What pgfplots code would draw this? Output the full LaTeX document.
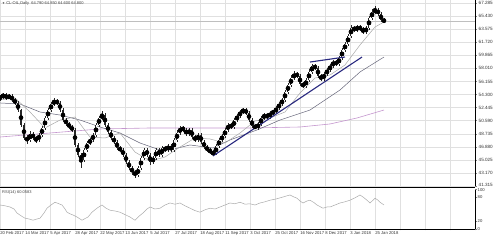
\documentclass[border=0pt]{standalone}
\usepackage{pgfplots}
\usepackage{pgfplotstable}
\pgfplotsset{compat=1.18}
\usepackage{fontspec}
\setmainfont{Liberation Sans}
\definecolor{gridc}{RGB}{224,224,224}
\definecolor{navyl}{RGB}{42,42,128}
\definecolor{maA}{RGB}{168,168,168}
\definecolor{maB}{RGB}{100,100,120}
\definecolor{maC}{RGB}{196,150,206}
\definecolor{rsic}{RGB}{170,170,170}
\definecolor{sepc}{RGB}{110,110,110}

\pgfplotstableread{
x o h l c
0 53.70 54.30 53.45 53.95
3 53.95 54.55 53.70 54.23
6 54.23 54.50 53.55 53.81
9 53.81 54.40 53.60 54.09
12 54.09 54.35 53.20 53.52
15 53.52 53.80 52.85 53.10
18 53.10 53.35 51.80 52.10
21 52.10 52.30 49.70 49.97
24 49.97 50.20 47.80 48.13
27 48.13 48.60 47.30 47.85
30 47.85 49.10 47.60 48.70
33 48.70 49.00 47.85 48.13
36 48.13 48.40 47.40 47.85
39 47.85 48.90 47.60 48.56
42 48.56 49.85 48.30 49.55
45 49.55 51.25 49.30 50.97
48 50.97 52.45 50.70 52.10
51 52.10 53.30 51.85 52.95
54 52.95 53.80 52.70 53.38
57 53.38 53.65 52.80 53.10
60 53.10 53.35 51.85 52.10
63 52.10 52.35 50.40 50.68
66 50.68 51.00 49.85 50.12
69 50.12 50.45 49.40 49.69
72 49.69 50.00 48.95 49.27
75 49.27 49.50 46.85 47.14
78 47.14 47.40 45.40 45.72
81 45.72 46.00 43.90 45.01
84 45.01 46.75 44.75 46.43
87 46.43 47.70 46.15 47.42
90 47.42 48.20 47.10 47.85
93 47.85 48.85 47.60 48.56
96 48.56 50.30 48.30 49.97
99 49.97 51.30 49.70 50.97
102 50.97 51.90 50.70 51.39
105 51.39 51.65 49.70 49.97
108 49.97 50.25 48.70 48.98
111 48.98 49.25 47.85 48.13
114 48.13 48.40 47.25 47.56
117 47.56 47.85 46.40 46.71
120 46.71 47.00 46.10 46.43
123 46.43 46.70 45.40 45.72
126 45.72 46.00 44.40 44.73
129 44.73 45.00 43.55 43.87
132 43.87 44.15 42.95 43.31
135 43.31 43.60 42.50 42.88
138 42.88 44.15 42.60 43.87
141 43.87 45.60 43.60 45.29
144 45.29 46.75 45.00 46.43
147 46.43 46.70 45.45 45.72
150 45.72 46.00 44.30 44.73
153 44.73 45.60 44.45 45.29
156 45.29 46.70 45.00 46.43
159 46.43 46.70 45.40 45.72
162 45.72 47.00 45.45 46.71
165 46.71 47.00 46.15 46.43
168 46.43 47.30 46.15 46.99
171 46.99 47.25 46.10 46.43
174 46.43 48.15 46.15 47.85
177 47.85 49.20 47.60 48.84
180 48.84 49.90 48.55 49.55
183 49.55 49.85 49.00 49.27
186 49.27 49.55 48.40 48.70
189 48.70 49.60 48.45 49.27
192 49.27 49.55 48.00 48.27
195 48.27 48.55 47.55 47.85
198 47.85 48.85 47.60 48.56
201 48.56 48.80 47.30 47.56
204 47.56 47.85 46.55 46.85
207 46.85 47.10 46.15 46.43
210 46.43 46.70 45.85 46.14
213 46.14 46.40 45.55 45.86
216 45.86 47.30 45.65 46.99
219 46.99 48.15 46.75 47.85
222 47.85 48.70 47.60 48.41
225 48.41 49.60 48.15 49.27
228 49.27 50.30 49.00 49.97
231 49.97 50.25 49.40 49.69
234 49.69 51.00 49.45 50.68
237 50.68 51.60 50.40 51.25
240 51.25 52.15 51.00 51.82
243 51.82 52.45 51.55 52.10
246 52.10 52.40 51.40 51.68
249 51.68 51.95 50.40 50.68
252 50.68 50.95 49.55 49.83
255 49.83 50.10 49.35 49.55
258 49.55 50.45 49.30 50.12
261 50.12 51.30 49.90 50.97
264 50.97 51.70 50.70 51.39
267 51.39 51.65 50.85 51.11
270 51.11 52.00 50.85 51.68
273 51.68 52.15 51.40 51.82
276 51.82 52.70 51.55 52.39
279 52.39 53.25 52.10 52.95
282 52.95 53.85 52.70 53.52
285 53.52 55.00 53.30 54.66
288 54.66 56.00 54.40 55.65
291 55.65 57.00 55.40 56.64
294 56.64 57.60 56.35 57.21
297 57.21 57.50 56.65 56.93
300 56.93 57.20 55.50 55.79
303 55.79 56.10 55.20 55.51
306 55.51 56.70 55.25 56.36
309 56.36 57.85 56.10 57.50
312 57.50 58.70 57.25 58.35
315 58.35 58.65 57.75 58.06
318 58.06 58.30 56.65 56.93
321 56.93 57.20 56.20 56.50
324 56.50 57.55 56.25 57.21
327 57.21 58.10 56.95 57.78
330 57.78 58.70 57.50 58.35
333 58.35 59.25 58.10 58.91
336 58.91 59.20 58.35 58.63
339 58.63 59.80 58.40 59.48
342 59.48 60.95 59.20 60.62
345 60.62 61.80 60.35 61.47
348 61.47 62.95 61.20 62.60
351 62.60 64.10 62.35 63.74
354 63.74 64.05 63.15 63.45
357 63.45 64.20 63.20 63.88
360 63.88 64.15 63.30 63.60
363 63.60 63.90 62.85 63.17
366 63.17 64.05 62.90 63.74
369 63.74 65.50 63.50 65.16
372 65.16 66.40 64.90 66.01
375 66.01 66.80 65.75 66.29
378 66.29 66.60 65.45 65.73
381 65.73 66.00 64.55 64.87
384 64.87 65.10 64.40 64.73
}\ohlc

\begin{document}
\begin{tikzpicture}[x=1pt,y=1pt]
\useasboundingbox (0,0) rectangle (499,240);
\begin{axis}[
  at={(0pt,53pt)}, anchor=south west,
  width=475pt, height=187pt, scale only axis,
  xmin=0, xmax=475, ymin=41.178, ymax=67.711,
  axis x line*=bottom, axis y line*=right,
  x axis line style={-, sepc, line width=1.6pt},
  y axis line style={-, gray, line width=0.6pt},
  every outer x axis line/.style={-}, every outer y axis line/.style={-},
  every inner x axis line/.style={-}, every inner y axis line/.style={-},
  xtick={0,25,...,475}, xticklabels={}, x tick style={draw=none},
  ytick={67.285,65.430,63.575,61.720,59.865,58.010,56.155,54.300,52.445,50.590,48.735,46.880,45.025,43.170},
  yticklabels={67.285,65.430,63.575,61.720,59.865,58.010,56.155,54.300,52.445,50.590,48.735,46.880,45.025,43.170},
  extra y ticks={41.315}, extra y tick labels={41.315},
  extra y tick style={yticklabel style={yshift=1pt}},
  ytick pos=right, tick align=outside, major tick length=2pt,
  y tick style={gray, line width=0.4pt},
  yticklabel style={font=\fontsize{4.6}{5}\selectfont, text=black!80, inner sep=1pt, xshift=0.5pt},
  xmajorgrids, ymajorgrids, grid style={gridc, line width=0.4pt},
  clip=true,
]
% current price line
\addplot[black!25, line width=0.4pt, forget plot] coordinates {(0,64.73) (475,64.73)};
% moving averages
\addplot[maC, line width=0.6pt] coordinates {(0,48.27) (50,48.84) (100,49.41) (150,49.55) (200,49.55) (250,49.55) (300,49.69) (330,50.12) (357,50.97) (384,52.10)};
\addplot[maB, line width=0.5pt] coordinates {(0,53.10) (20,52.95) (40,51.82) (60,51.39) (80,50.68) (100,49.69) (120,48.84) (140,47.42) (160,46.43) (170,46.43) (190,47.14) (213,46.71) (230,47.85) (257,49.27) (280,50.68) (310,52.10) (340,54.94) (360,57.50) (384,59.62)};
\addplot[maA, line width=0.5pt] coordinates {(0,53.52) (15,53.81) (30,51.82) (45,49.55) (60,50.68) (75,51.11) (90,48.27) (105,48.13) (120,48.84) (135,46.14) (150,44.87) (165,45.43) (180,46.85) (195,48.13) (210,47.99) (225,47.42) (240,48.84) (255,50.54) (270,50.97) (285,51.82) (300,54.52) (315,56.64) (330,57.07) (345,58.49) (360,61.33) (375,63.88) (384,64.59)};
% candles: wicks
\addplot[only marks, mark=none, forget plot,
  error bars/.cd, y dir=both, y explicit, error mark=none,
  error bar style={black!85, line width=0.3pt}]
  table[x=x, y expr={(\thisrow{h}+\thisrow{l})/2}, y error expr={(\thisrow{h}-\thisrow{l})/2}] {\ohlc};
% candles: bodies
\addplot[only marks, mark=none, forget plot,
  error bars/.cd, y dir=both, y explicit, error mark=none,
  error bar style={black!85, line width=1.25pt}]
  table[x=x, y expr={(\thisrow{o}+\thisrow{c})/2}, y error expr={abs(\thisrow{o}-\thisrow{c})/2}] {\ohlc};
\addplot[only marks, mark=none, forget plot,
  restrict expr to domain={\thisrow{c}-\thisrow{o}}{0.2:100},
  error bars/.cd, y dir=both, y explicit, error mark=none,
  error bar style={white, line width=0.65pt}]
  table[x=x, y expr={(\thisrow{o}+\thisrow{c})/2}, y error expr={abs(\thisrow{o}-\thisrow{c})/2-0.06}] {\ohlc};
% trend lines
\addplot[navyl, line width=1.1pt] coordinates {(213,45.58) (362,59.62)};
\addplot[navyl, line width=1.1pt] coordinates {(310,58.91) (345,59.62)};
% current price box
\node[fill=black, text=white, font=\fontsize{4.6}{5}\selectfont, inner sep=0.8pt, anchor=west] at (axis cs:477,64.73) {64.730};
\end{axis}

\node[anchor=west, font=\fontsize{4}{4.5}\selectfont, text=black!75, inner sep=0pt] at (2,237) {\fontsize{3}{3}\selectfont▼\fontsize{4}{4.5}\selectfont\ CL-OIL,Daily\ \ 64.790 64.850 64.600 64.800};

\begin{axis}[
  at={(0pt,11pt)}, anchor=south west,
  width=475pt, height=40pt, scale only axis,
  xmin=0, xmax=475, ymin=0, ymax=100,
  axis x line*=bottom, axis y line*=right,
  axis line style={-, gray, line width=0.6pt},
  every outer x axis line/.style={-}, every outer y axis line/.style={-},
  every inner x axis line/.style={-}, every inner y axis line/.style={-},
  xtick={0,25,...,475},
  xticklabels={20 Feb 2017,14 Mar 2017,5 Apr 2017,28 Apr 2017,22 May 2017,13 Jun 2017,5 Jul 2017,27 Jul 2017,18 Aug 2017,11 Sep 2017,3 Oct 2017,25 Oct 2017,16 Nov 2017,8 Dec 2017,3 Jan 2018,25 Jan 2018,{},{},{},{}},
  xticklabel style={font=\fontsize{4.2}{4.5}\selectfont, text=black!80, anchor=north west, inner sep=0.6pt, xshift=-0.5pt},
  ytick={0,20,80}, yticklabels={0,20,80},
  extra y ticks={100}, extra y tick labels={100},
  extra y tick style={yticklabel style={yshift=-0.8pt}},
  ytick pos=right, tick align=outside, major tick length=1.5pt,
  tick style={gray, line width=0.4pt},
  yticklabel style={font=\fontsize{4.2}{4.5}\selectfont, text=black!80, inner sep=1pt},
  xmajorgrids, grid style={gridc, line width=0.4pt},
]
\addplot[rsic, line width=0.5pt] coordinates {(0,60) (5,58) (10,55) (14,50) (17,40) (21,33) (25,27) (29,25) (33,22) (37,25) (40,27) (44,40) (47,52) (51,60) (55,67) (58,64) (62,60) (65,50) (67,42) (70,38) (73,35) (77,30) (82,22) (85,26) (88,30) (92,42) (97,52) (100,57) (102,60) (106,52) (110,47) (115,45) (120,42) (125,36) (130,30) (133,25) (135,22) (139,32) (143,40) (147,50) (150,55) (155,50) (160,52) (165,60) (170,65) (175,62) (180,65) (185,58) (190,52) (195,46) (200,42) (205,48) (210,52) (215,50) (220,55) (225,60) (230,65) (235,63) (240,67) (245,62) (250,63) (255,60) (260,65) (265,68) (270,72) (276,75) (283,80) (287,83) (290,85) (294,80) (297,77) (300,70) (303,65) (307,70) (310,72) (314,66) (317,60) (320,56) (323,52) (327,55) (330,55) (335,60) (340,65) (345,68) (350,72) (355,78) (360,85) (363,80) (367,72) (370,65) (373,72) (375,77) (378,72) (380,67) (384,60)};
\end{axis}
\node[anchor=west, font=\fontsize{4}{4.5}\selectfont, text=black!75, inner sep=0pt] at (2,48) {RSI(14) 60.0583};
\end{tikzpicture}
\end{document}
